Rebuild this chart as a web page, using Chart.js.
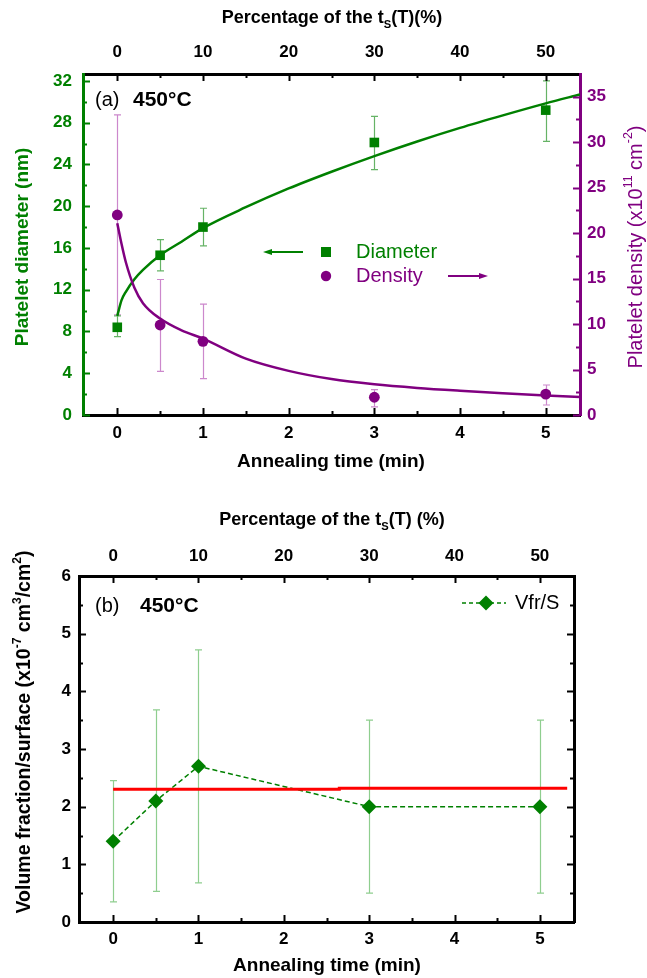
<!DOCTYPE html>
<html>
<head>
<meta charset="utf-8">
<script src="https://cdn.jsdelivr.net/npm/chart.js@4/dist/chart.umd.min.js"></script>
<style>
  body { margin: 0; background: #fff; width: 647px; height: 978px; position: relative; overflow: hidden; }
  canvas { position: absolute; left: 0; }
  #chartA { top: 0; }
  #chartB { top: 480px; }
</style>
</head>
<body>
<canvas id="chartA" width="647" height="480"></canvas>
<canvas id="chartB" width="647" height="498"></canvas>
<script>
// ---- data ----
var timeMin = [0, 0.5, 1, 3, 5];

// (a) platelet diameter (nm)
var diameterNm = [8.4, 15.3, 18.0, 26.1, 29.2];
var diameterLow = [7.5, 13.8, 16.2, 23.5, 26.2];
var diameterHigh = [9.5, 16.8, 19.8, 28.6, 32.0];

// (a) platelet density (x10^11 cm^-2)
var densityVal = [22.0, 9.9, 8.1, 1.95, 2.3];
var densityLow = [11.0, 4.8, 4.0, 0.9, 1.1];
var densityHigh = [33.0, 14.9, 12.2, 2.8, 3.3];

// (a) fitted curves
var fitTime = [0, 0.05, 0.1, 0.2, 0.3, 0.5, 0.75, 1, 1.5, 2, 2.5, 3, 3.5, 4, 4.5, 5, 5.4];
var diameterFit = [9.5, 11.0, 11.8, 13.0, 13.9, 15.3, 16.6, 17.9, 19.9, 21.7, 23.3, 24.8, 26.2, 27.5, 28.7, 29.85, 30.7];
var densityFit = [21.1, 18.8, 16.8, 14.0, 12.3, 10.6, 9.3, 8.4, 6.2, 4.85, 3.95, 3.38, 2.98, 2.67, 2.4, 2.15, 1.98];

// (b) volume fraction / surface (x10^-7 cm^3/cm^2)
var vfrS = [1.4, 2.1, 2.7, 2.0, 2.0];
var vfrLow = [0.35, 0.53, 0.68, 0.5, 0.5];
var vfrHigh = [2.45, 3.68, 4.72, 3.5, 3.5];
var meanTime = [0, 2.65, 2.65, 5.32];
var meanVal = [2.30, 2.30, 2.32, 2.32];

// tick labels
var timeTicks = [0, 1, 2, 3, 4, 5];
var pctTicks = [0, 10, 20, 30, 40, 50];
var diameterTicks = [0, 4, 8, 12, 16, 20, 24, 28, 32];
var densityTicks = [0, 5, 10, 15, 20, 25, 30, 35];
var vfrTicks = [0, 1, 2, 3, 4, 5, 6];

var GREEN = '#008000';
var PURPLE = '#800080';
var FONT = "'Liberation Sans', Arial, Helvetica, sans-serif";

Chart.defaults.font.family = FONT;
Chart.defaults.color = '#000';

function pts(xs, ys) {
  return xs.map(function (x, i) { return { x: x, y: ys[i] }; });
}

function fixedTicks(list) {
  return function (scale) {
    scale.ticks = list.map(function (v) { return { value: v }; });
  };
}

function halfway(list) {
  var out = [];
  for (var i = 0; i < list.length - 1; i++) out.push((list[i] + list[i + 1]) / 2);
  return out;
}

// text with sub/superscript parts, centred at (cx, cy)
function richText(ctx, parts, cx, cy, size, weight, color, angle) {
  ctx.save();
  ctx.translate(cx, cy);
  ctx.rotate(angle || 0);
  ctx.fillStyle = color;
  ctx.textBaseline = 'middle';
  var total = 0;
  parts.forEach(function (p) {
    var s = p[1] === 'n' ? size : size * 0.62;
    ctx.font = weight + ' ' + s + 'px ' + FONT;
    p.w = ctx.measureText(p[0]).width;
    total += p.w;
  });
  var x = -total / 2;
  parts.forEach(function (p) {
    var s = p[1] === 'n' ? size : size * 0.62;
    var dy = p[1] === 'sup' ? -size * 0.38 : (p[1] === 'sub' ? size * 0.38 : 0);
    ctx.font = weight + ' ' + s + 'px ' + FONT;
    ctx.textAlign = 'left';
    ctx.fillText(p[0], x, dy);
    x += p.w;
  });
  ctx.restore();
}

function plainText(ctx, str, x, y, size, weight, color) {
  ctx.save();
  ctx.font = weight + ' ' + size + 'px ' + FONT;
  ctx.fillStyle = color;
  ctx.textAlign = 'left';
  ctx.textBaseline = 'middle';
  ctx.fillText(str, x, y);
  ctx.restore();
}

function arrow(ctx, x1, x2, y, color) {
  var dir = x2 > x1 ? 1 : -1;
  ctx.save();
  ctx.strokeStyle = color;
  ctx.fillStyle = color;
  ctx.lineWidth = 2;
  ctx.beginPath();
  ctx.moveTo(x1, y);
  ctx.lineTo(x2 - dir * 6, y);
  ctx.stroke();
  ctx.beginPath();
  ctx.moveTo(x2, y);
  ctx.lineTo(x2 - dir * 9, y - 3);
  ctx.lineTo(x2 - dir * 9, y + 3);
  ctx.closePath();
  ctx.fill();
  ctx.restore();
}

// inward tick marks on one side of the plot box
function sideTicks(chart, scaleId, side, majors, color) {
  var s = chart.scales[scaleId], a = chart.chartArea, ctx = chart.ctx;
  ctx.save();
  ctx.strokeStyle = color;
  ctx.lineWidth = 2;
  function one(v, len) {
    var p = Math.round(s.getPixelForValue(v)) + 0.5;
    ctx.beginPath();
    if (side === 'left') { ctx.moveTo(a.left, p); ctx.lineTo(a.left + len, p); }
    if (side === 'right') { ctx.moveTo(a.right, p); ctx.lineTo(a.right - len, p); }
    if (side === 'top') { ctx.moveTo(p, a.top); ctx.lineTo(p, a.top + len); }
    if (side === 'bottom') { ctx.moveTo(p, a.bottom); ctx.lineTo(p, a.bottom - len); }
    ctx.stroke();
  }
  majors.forEach(function (v) { one(v, 7); });
  halfway(majors).forEach(function (v) { one(v, 4); });
  ctx.restore();
}

function errorBars(chart, yId, xs, lows, highs, color) {
  var sx = chart.scales.x, sy = chart.scales[yId], a = chart.chartArea, ctx = chart.ctx;
  ctx.save();
  ctx.beginPath();
  ctx.rect(a.left, a.top - 1, a.right - a.left, a.bottom - a.top + 1);
  ctx.clip();
  ctx.strokeStyle = color;
  ctx.lineWidth = 1.2;
  xs.forEach(function (x, i) {
    var px = Math.round(sx.getPixelForValue(x)) + 0.5;
    var lo = sy.getPixelForValue(lows[i]), hi = sy.getPixelForValue(highs[i]);
    ctx.beginPath();
    ctx.moveTo(px, lo); ctx.lineTo(px, hi);
    ctx.moveTo(px - 3.5, lo); ctx.lineTo(px + 3.5, lo);
    ctx.moveTo(px - 3.5, hi); ctx.lineTo(px + 3.5, hi);
    ctx.stroke();
  });
  ctx.restore();
}

function xAxis(pos, min, max, list, size, pad) {
  return {
    type: 'linear', position: pos, min: min, max: max,
    afterBuildTicks: fixedTicks(list),
    afterFit: function (s) { s.height = size; },
    grid: { display: false, drawTicks: false },
    border: { display: true, color: '#000', width: 3 },
    ticks: { color: '#000', padding: pad, maxRotation: 0, font: { size: 17, weight: 'bold' } }
  };
}

function yAxis(pos, min, max, list, size, pad, color, showLabels) {
  return {
    type: 'linear', position: pos, min: min, max: max,
    afterBuildTicks: fixedTicks(list),
    afterFit: function (s) { s.width = size; },
    grid: { display: false, drawTicks: false },
    border: { display: true, color: color, width: 3 },
    ticks: { display: showLabels, color: color, padding: pad, font: { size: 17, weight: 'bold' } }
  };
}

// ---------- panel (a) ----------
var panelA = {
  id: 'panelA',
  beforeDatasetsDraw: function (chart) {
    errorBars(chart, 'yR', timeMin, densityLow, densityHigh, '#cc88cc');
    errorBars(chart, 'yL', timeMin, diameterLow, diameterHigh, '#66b366');
  },
  afterDraw: function (chart) {
    var ctx = chart.ctx;
    sideTicks(chart, 'yL', 'left', diameterTicks, GREEN);
    sideTicks(chart, 'yR', 'right', densityTicks, PURPLE);
    sideTicks(chart, 'x', 'bottom', timeTicks, '#000');
    sideTicks(chart, 'x2', 'top', pctTicks, '#000');

    richText(ctx, [['Percentage of the t', 'n'], ['S', 'sub'], ['(T)(%)', 'n']], 332, 18, 18, 'bold', '#000');
    richText(ctx, [['Annealing time (min)', 'n']], 331, 462, 19, 'bold', '#000');
    richText(ctx, [['Platelet diameter (nm)', 'n']], 23, 247, 19, 'bold', GREEN, -Math.PI / 2);
    richText(ctx, [['Platelet density (x10', 'n'], ['11', 'sup'], [' cm', 'n'], ['-2', 'sup'], [')', 'n']],
      636, 247, 20, 'normal', PURPLE, -Math.PI / 2);

    plainText(ctx, '(a)', 95, 100, 20, 'normal', '#000');
    plainText(ctx, '450°C', 133, 100, 21, 'bold', '#000');

    // legend with arrows
    arrow(ctx, 303, 263, 252, GREEN);
    ctx.fillStyle = GREEN;
    ctx.fillRect(321, 247, 10, 10);
    plainText(ctx, 'Diameter', 356, 252, 20, 'normal', GREEN);
    ctx.fillStyle = PURPLE;
    ctx.beginPath(); ctx.arc(326, 276, 5.2, 0, Math.PI * 2); ctx.fill();
    plainText(ctx, 'Density', 356, 276, 20, 'normal', PURPLE);
    arrow(ctx, 448, 488, 276, PURPLE);
  }
};

new Chart(document.getElementById('chartA'), {
  type: 'scatter',
  data: {
    datasets: [
      { data: pts(fitTime, densityFit), yAxisID: 'yR', showLine: true, pointRadius: 0,
        borderColor: PURPLE, borderWidth: 2.5, cubicInterpolationMode: 'monotone' },
      { data: pts(fitTime, diameterFit), yAxisID: 'yL', showLine: true, pointRadius: 0,
        borderColor: GREEN, borderWidth: 2.5, cubicInterpolationMode: 'monotone' },
      { data: pts(timeMin, densityVal), yAxisID: 'yR', pointStyle: 'circle', pointRadius: 5.4,
        backgroundColor: PURPLE, borderColor: PURPLE, borderWidth: 0 },
      { data: pts(timeMin, diameterNm), yAxisID: 'yL', pointStyle: 'rect', pointRadius: 6.8,
        backgroundColor: GREEN, borderColor: GREEN, borderWidth: 0 }
    ]
  },
  options: {
    responsive: false,
    devicePixelRatio: 1,
    animation: false,
    layout: { padding: 0 },
    plugins: { legend: { display: false }, tooltip: { enabled: false } },
    scales: {
      x: xAxis('bottom', -0.4, 5.4, timeTicks, 65, 8),
      x2: xAxis('top', -4, 54, pctTicks, 74, 11),
      yL: yAxis('left', 0, 32.66, diameterTicks, 83, 11, GREEN, true),
      yR: yAxis('right', 0, 37.5, densityTicks, 67, 7, PURPLE, true)
    }
  },
  plugins: [panelA]
});

// ---------- panel (b) ----------
var panelB = {
  id: 'panelB',
  beforeDatasetsDraw: function (chart) {
    errorBars(chart, 'y', timeMin, vfrLow, vfrHigh, '#8fce8f');
  },
  afterDraw: function (chart) {
    var ctx = chart.ctx;
    sideTicks(chart, 'y', 'left', vfrTicks, '#000');
    sideTicks(chart, 'y', 'right', vfrTicks, '#000');
    sideTicks(chart, 'x', 'bottom', timeTicks, '#000');
    sideTicks(chart, 'x2', 'top', pctTicks, '#000');

    richText(ctx, [['Percentage of the t', 'n'], ['S', 'sub'], ['(T) (%)', 'n']], 332, 40, 18, 'bold', '#000');
    richText(ctx, [['Annealing time (min)', 'n']], 327, 486, 19, 'bold', '#000');
    richText(ctx, [['Volume fraction/surface (x10', 'n'], ['-7', 'sup'], [' cm', 'n'], ['3', 'sup'],
      ['/cm', 'n'], ['2', 'sup'], [')', 'n']], 25, 252, 19.5, 'bold', '#000', -Math.PI / 2);

    plainText(ctx, '(b)', 95, 126, 20, 'normal', '#000');
    plainText(ctx, '450°C', 140, 126, 21, 'bold', '#000');

    // legend
    ctx.save();
    ctx.strokeStyle = GREEN;
    ctx.lineWidth = 1.5;
    ctx.setLineDash([4, 3]);
    ctx.beginPath(); ctx.moveTo(462, 123); ctx.lineTo(506, 123); ctx.stroke();
    ctx.setLineDash([]);
    ctx.fillStyle = GREEN;
    ctx.beginPath();
    ctx.moveTo(486, 115.5); ctx.lineTo(493.5, 123); ctx.lineTo(486, 130.5); ctx.lineTo(478.5, 123);
    ctx.closePath(); ctx.fill();
    ctx.restore();
    plainText(ctx, 'Vfr/S', 515, 123, 20, 'normal', '#000');
  }
};

new Chart(document.getElementById('chartB'), {
  type: 'scatter',
  data: {
    datasets: [
      { data: pts(meanTime, meanVal), showLine: true, pointRadius: 0,
        borderColor: '#ff0000', borderWidth: 3 },
      { data: pts(timeMin, vfrS), showLine: true, borderDash: [5, 3], borderWidth: 1.5,
        borderColor: GREEN, backgroundColor: GREEN, pointStyle: 'rectRot', pointRadius: 7.5,
        pointBorderWidth: 0 }
    ]
  },
  options: {
    responsive: false,
    devicePixelRatio: 1,
    animation: false,
    layout: { padding: 0 },
    plugins: { legend: { display: false }, tooltip: { enabled: false } },
    scales: {
      x: xAxis('bottom', -0.4, 5.4, timeTicks, 56, 7),
      x2: xAxis('top', -4, 54, pctTicks, 96, 9),
      y: yAxis('left', 0, 6, vfrTicks, 79, 8, '#000', true),
      y2: yAxis('right', 0, 6, vfrTicks, 73, 0, '#000', false)
    }
  },
  plugins: [panelB]
});
</script>
</body>
</html>
